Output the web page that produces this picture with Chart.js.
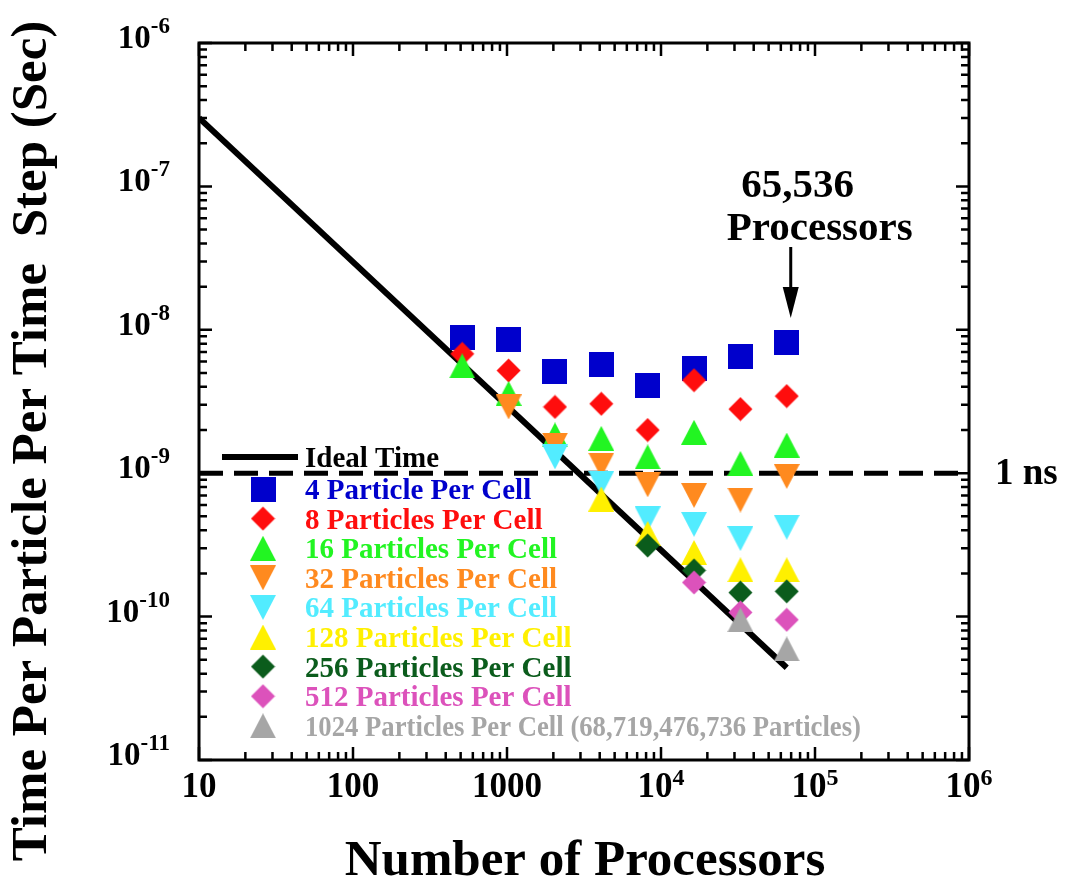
<!DOCTYPE html>
<html>
<head>
<meta charset="utf-8">
<title>Time Per Particle Per Time Step</title>
<script src="https://cdn.jsdelivr.net/npm/chart.js@4.4.1/dist/chart.umd.min.js"></script>
<style>
  html, body { margin: 0; padding: 0; background: #fff; }
  #wrap { width: 1069px; height: 880px; }
</style>
</head>
<body>
<div id="wrap"><canvas id="chart" width="1069" height="880"></canvas></div>
<script>
// processors used in the runs
const processors = [512, 1024, 2048, 4096, 8192, 16384, 32768, 65536];

// seconds per particle per time step, one list per particles-per-cell run
const ppc4    = [8.9e-9, 8.5e-9, 5.1e-9, 5.75e-9, 4.1e-9, 5.35e-9, 6.55e-9, 8.2e-9];
const ppc8    = [6.8e-9, 5.2e-9, 2.9e-9, 3.05e-9, 2.0e-9, 4.45e-9, 2.8e-9, 3.45e-9];
const ppc16   = [5.6e-9, 3.6e-9, 1.85e-9, 1.75e-9, 1.3e-9, 1.93e-9, 1.17e-9, 1.57e-9];
const ppc32   = [null, 2.9e-9, 1.57e-9, 1.14e-9, 8.3e-10, 7.0e-10, 6.5e-10, 9.5e-10];
const ppc64   = [null, null, 1.3e-9, 8.5e-10, 4.8e-10, 4.4e-10, 3.5e-10, 4.2e-10];
const ppc128  = [null, null, null, 6.6e-10, 3.8e-10, 2.8e-10, 2.12e-10, 2.12e-10];
const ppc256  = [null, null, null, null, 3.13e-10, 2.1e-10, 1.47e-10, 1.5e-10];
const ppc512  = [null, null, null, null, null, 1.73e-10, 1.07e-10, 9.5e-11];
const ppc1024 = [null, null, null, null, null, null, 9.5e-11, 5.95e-11];

const seriesLabels = [
  "4 Particle Per Cell",
  "8 Particles Per Cell",
  "16 Particles Per Cell",
  "32 Particles Per Cell",
  "64 Particles Per Cell",
  "128 Particles Per Cell",
  "256 Particles Per Cell",
  "512 Particles Per Cell",
  "1024 Particles Per Cell (68,719,476,736 Particles)"
];
const seriesValues = [ppc4, ppc8, ppc16, ppc32, ppc64, ppc128, ppc256, ppc512, ppc1024];

// ideal scaling line and the 1 ns reference
const idealProcs = [10, 65536];
const idealTimes = [3.0e-7, 4.4e-11];
const nsProcs = [10, 1e6];
const nsTimes = [1e-9, 1e-9];

const xTicks = [10, 100, 1000, 1e4, 1e5, 1e6];
const xTickLabels = [["10", ""], ["100", ""], ["1000", ""], ["10", "4"], ["10", "5"], ["10", "6"]];
const yTicks = [1e-6, 1e-7, 1e-8, 1e-9, 1e-10, 1e-11];
const yTickLabels = [["10", "-6"], ["10", "-7"], ["10", "-8"], ["10", "-9"], ["10", "-10"], ["10", "-11"]];

const arrowTarget = 65536;

// styles
const serif = "'Liberation Serif', 'Times New Roman', serif";
const seriesColors = ["#0000cc", "#ff0d0d", "#22f522", "#ff8a1f", "#52ecff", "#fff000", "#0b5c1c", "#dc52bb", "#a6a6a6"];
const seriesShapes = ["square", "diamond", "up", "down", "down", "up", "diamond", "diamond", "up"];

function makeMarker(shape, color) {
  const c = document.createElement("canvas");
  const g = c.getContext("2d");
  g.fillStyle = color;
  if (shape === "square") {
    c.width = 25; c.height = 25;
    g.fillStyle = color;
    g.fillRect(0, 0, 25, 25);
    return c;
  }
  if (shape === "diamond") {
    c.width = 25; c.height = 25;
    g.fillStyle = color;
    g.beginPath();
    g.moveTo(12.5, 0.5); g.lineTo(24.5, 12.5); g.lineTo(12.5, 24.5); g.lineTo(0.5, 12.5);
    g.closePath(); g.fill();
    return c;
  }
  c.width = 26; c.height = 25;
  g.fillStyle = color;
  g.beginPath();
  if (shape === "up") {
    g.moveTo(13, 0); g.lineTo(26, 25); g.lineTo(0, 25);
  } else {
    g.moveTo(0, 0); g.lineTo(26, 0); g.lineTo(13, 25);
  }
  g.closePath(); g.fill();
  return c;
}

const markers = seriesColors.map((col, i) => makeMarker(seriesShapes[i], col));

const datasets = seriesValues.map((vals, i) => ({
  label: seriesLabels[i],
  data: processors.map((x, j) => ({ x, y: vals[j] })).filter(p => p.y !== null),
  showLine: false,
  pointStyle: markers[i],
  pointRadius: 12,
  order: 20 - i,
}));

datasets.push({
  label: "Ideal Time",
  data: idealProcs.map((x, j) => ({ x, y: idealTimes[j] })),
  showLine: true,
  borderColor: "#000",
  borderWidth: 6,
  pointRadius: 0,
  order: 40,
});

datasets.push({
  label: "1 ns",
  data: nsProcs.map((x, j) => ({ x, y: nsTimes[j] })),
  showLine: true,
  borderColor: "#000",
  borderWidth: 5,
  borderDash: [24, 11],
  pointRadius: 0,
  order: 41,
});

function supText(ctx, base, sup, x, y, baseSize, supSize, supRise, align) {
  ctx.font = `bold ${baseSize}px ${serif}`;
  const wb = ctx.measureText(base).width;
  ctx.font = `bold ${supSize}px ${serif}`;
  const ws = sup ? ctx.measureText(sup).width : 0;
  let left = x;
  if (align === "center") left = x - (wb + ws) / 2;
  if (align === "right") left = x - wb - ws;
  ctx.textAlign = "left";
  ctx.font = `bold ${baseSize}px ${serif}`;
  ctx.fillText(base, left, y);
  if (sup) {
    ctx.font = `bold ${supSize}px ${serif}`;
    ctx.fillText(sup, left + wb, y - supRise);
  }
}

const decorations = {
  id: "decorations",
  afterDatasetsDraw(chart) {
    const { ctx, chartArea: a } = chart;
    const xs = chart.scales.x, ys = chart.scales.y;
    ctx.save();
    ctx.fillStyle = "#000";
    ctx.strokeStyle = "#000";
    ctx.textBaseline = "alphabetic";

    // inward ticks on all four sides
    ctx.lineWidth = 2.5;
    ctx.beginPath();
    for (let d = 1; d <= 6; d++) {
      for (let m = 1; m <= 9; m++) {
        const v = m * Math.pow(10, d);
        if (v < 10 || v > 1e6) continue;
        const px = xs.getPixelForValue(v);
        const len = m === 1 ? 13 : 8;
        ctx.moveTo(px, a.bottom); ctx.lineTo(px, a.bottom - len);
        ctx.moveTo(px, a.top); ctx.lineTo(px, a.top + len);
      }
    }
    for (let d = -11; d <= -6; d++) {
      for (let m = 1; m <= 9; m++) {
        const v = m * Math.pow(10, d);
        if (v < 1e-11 * 0.999 || v > 1e-6 * 1.001) continue;
        const py = ys.getPixelForValue(v);
        const len = m === 1 ? 13 : 8;
        ctx.moveTo(a.left, py); ctx.lineTo(a.left + len, py);
        ctx.moveTo(a.right, py); ctx.lineTo(a.right - len, py);
      }
    }
    ctx.stroke();

    // frame
    ctx.lineWidth = 3;
    ctx.strokeRect(a.left, a.top, a.right - a.left, a.bottom - a.top);

    // tick labels
    xTicks.forEach((v, i) => {
      const px = xs.getPixelForValue(v);
      supText(ctx, xTickLabels[i][0], xTickLabels[i][1], px, a.bottom + 37, 35, 24, 12, "center");
    });
    yTicks.forEach((v, i) => {
      const py = ys.getPixelForValue(v);
      supText(ctx, yTickLabels[i][0], yTickLabels[i][1], a.left - 29, py + 5, 33, 23, 15, "right");
    });

    // axis titles
    ctx.textAlign = "center";
    ctx.font = `bold 51px ${serif}`;
    ctx.fillText("Number of Processors", 585, 875);
    ctx.save();
    ctx.translate(46, 441);
    ctx.rotate(-Math.PI / 2);
    ctx.fillText("Time Per Particle Per Time  Step (Sec)", 0, 0);
    ctx.restore();

    // 1 ns label
    ctx.textAlign = "left";
    ctx.font = `bold 37px ${serif}`;
    ctx.fillText("1 ns", a.right + 26, ys.getPixelForValue(1e-9) + 11);

    // 65,536 processors note and arrow
    const ax = xs.getPixelForValue(arrowTarget) + 4;
    ctx.textAlign = "center";
    ctx.font = `bold 41px ${serif}`;
    ctx.fillText("65,536", ax + 7, 197);
    ctx.fillText("Processors", ax + 29, 240);
    ctx.lineWidth = 3;
    ctx.beginPath();
    ctx.moveTo(ax, 247); ctx.lineTo(ax, 295);
    ctx.stroke();
    ctx.beginPath();
    ctx.moveTo(ax - 8, 287); ctx.lineTo(ax + 8, 287); ctx.lineTo(ax, 318);
    ctx.closePath(); ctx.fill();

    // legend
    ctx.lineWidth = 6;
    ctx.beginPath();
    ctx.moveTo(222, 457); ctx.lineTo(298, 457);
    ctx.stroke();
    ctx.textAlign = "left";
    ctx.font = `bold 29px ${serif}`;
    ctx.fillStyle = "#000";
    ctx.fillText("Ideal Time", 305, 467);
    seriesLabels.forEach((lab, i) => {
      const cy = 489 + i * 29.6;
      Chart.helpers.drawPoint(ctx, { pointStyle: markers[i], radius: 12, rotation: 0 }, 263, cy);
      ctx.fillStyle = seriesColors[i];
      ctx.font = `bold 29px ${serif}`;
      if (i === seriesLabels.length - 1) {
        ctx.fillText(lab, 305, cy + 10, 556);
      } else {
        ctx.fillText(lab, 305, cy + 10);
      }
    });
    ctx.restore();
  }
};

new Chart(document.getElementById("chart"), {
  type: "scatter",
  data: { datasets },
  options: {
    responsive: false,
    animation: false,
    layout: { padding: { left: 199, right: 100, top: 43, bottom: 120 } },
    plugins: { legend: { display: false }, tooltip: { enabled: false } },
    scales: {
      x: { type: "logarithmic", min: 10, max: 1e6, display: false },
      y: { type: "logarithmic", min: 1e-11, max: 1e-6, display: false }
    }
  },
  plugins: [decorations]
});
</script>
</body>
</html>
